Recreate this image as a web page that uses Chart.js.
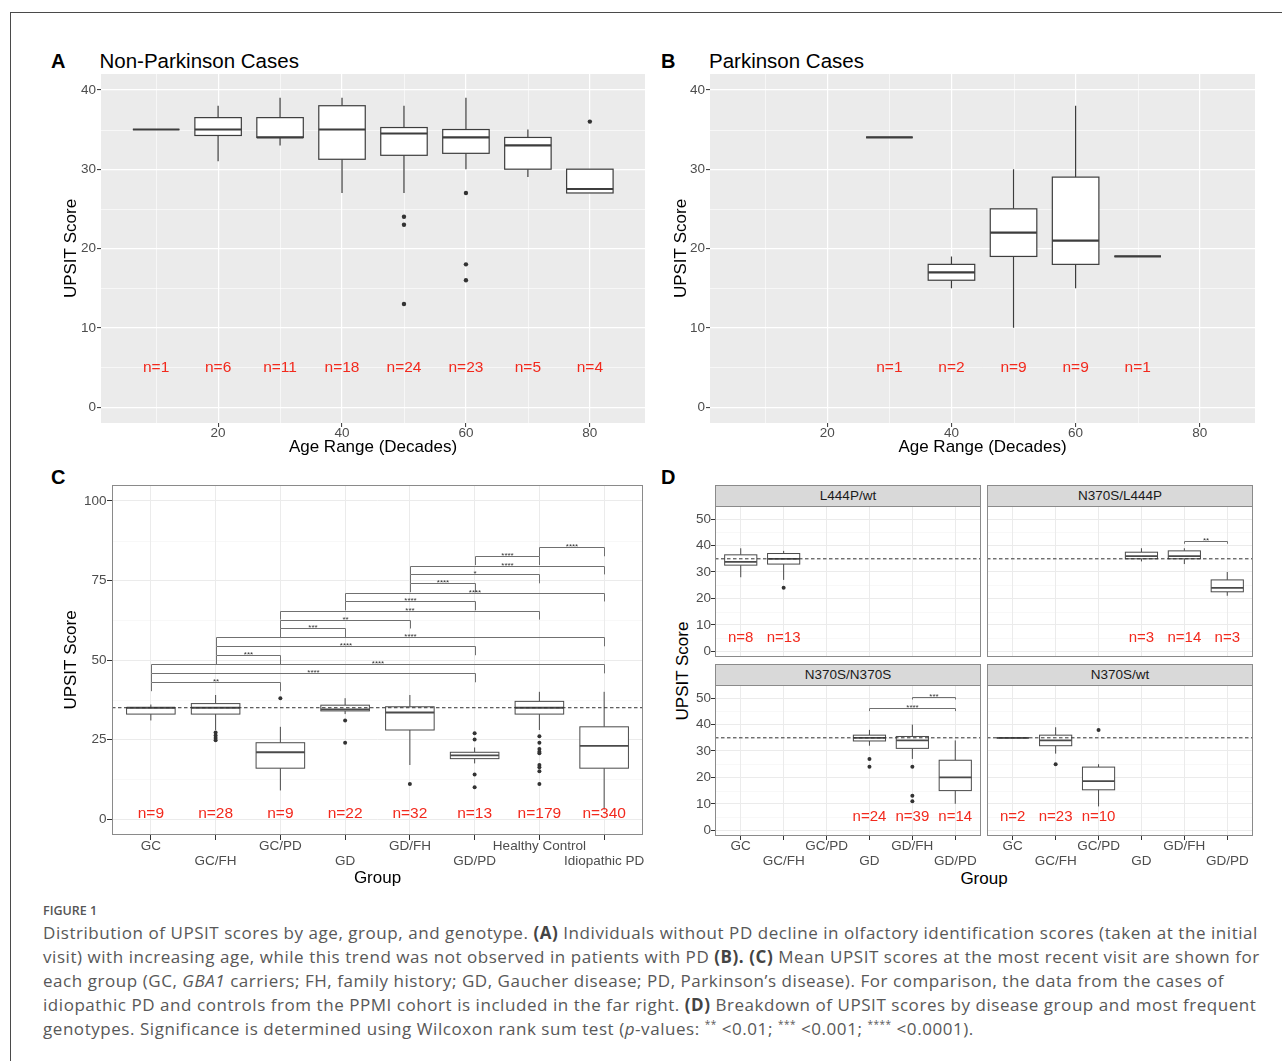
<!DOCTYPE html>
<html lang="en">
<head>
<meta charset="utf-8">
<title>Figure 1 - UPSIT scores by age, group and genotype</title>
<script src="https://cdn.jsdelivr.net/npm/chart.js@4.4.1/dist/chart.umd.min.js"></script>
<style>
    html, body { margin: 0; padding: 0; background: #fff; }
    #fig {
        position: relative;
        width: 1282px;
        height: 1061px;
        overflow: hidden;
        font-family: "Liberation Sans", Arial, Helvetica, sans-serif;
    }
    #fig canvas { position: absolute; }
    .frame-top { position: absolute; left: 10px; top: 12px; right: 0; border-top: 1px solid #4a4a4a; }
    .frame-left { position: absolute; left: 10px; top: 12px; bottom: 0; border-left: 1px solid #4a4a4a; }
    .tag { position: absolute; font-size: 20px; line-height: 1; font-weight: bold; color: #000; }
    .ptitle { position: absolute; font-size: 20.5px; line-height: 1; color: #000; white-space: nowrap; }
    .strip {
        position: absolute;
        box-sizing: border-box;
        background: #d9d9d9;
        border: 1px solid #8a8a8a;
        color: #1a1a1a;
        font-size: 13.5px;
        text-align: center;
        z-index: 2;
    }
    .axis-title {
        position: absolute;
        font-size: 17px;
        line-height: 1;
        color: #000;
        white-space: nowrap;
        transform: translate(-50%, -50%);
    }
    .axis-title.vertical { transform: translate(-50%, -50%) rotate(-90deg); }
    #caption {
        position: absolute;
        left: 43px;
        top: 901px;
        font-family: "Open Sans", Lato, sans-serif;
        color: #585858;
    }
    #caption .fig-no { font-size: 12.5px; line-height: 20px; font-weight: 600; color: #555; }
    #caption .cap-line { font-size: 17px; line-height: 24px; white-space: nowrap; letter-spacing: 0.55px; }
    #caption b { color: #444; font-weight: 700; }
    #caption sup { font-size: 10px; line-height: 0; }
</style>
</head>
<body>
<div id="fig">
    <div class="frame-top"></div>
    <div class="frame-left"></div>

    <div class="tag" style="left:51px; top:50.8px;">A</div>
    <div class="ptitle" style="left:99.5px; top:50.5px;">Non-Parkinson Cases</div>
    <div class="tag" style="left:661px; top:50.8px;">B</div>
    <div class="ptitle" style="left:709px; top:50.5px;">Parkinson Cases</div>
    <div class="tag" style="left:51px; top:467px;">C</div>
    <div class="tag" style="left:661px; top:467px;">D</div>

    <div class="axis-title vertical" style="left:682px; top:671px;">UPSIT Score</div>
    <div class="axis-title" style="left:984px; top:878px;">Group</div>

    <div id="caption">
        <div class="fig-no">FIGURE 1</div>
        <div class="cap-line">Distribution of UPSIT scores by age, group, and genotype. <b>(A)</b> Individuals without PD decline in olfactory identification scores (taken at the initial</div>
        <div class="cap-line">visit) with increasing age, while this trend was not observed in patients with PD <b>(B). (C)</b> Mean UPSIT scores at the most recent visit are shown for</div>
        <div class="cap-line">each group (GC, <i>GBA1</i> carriers; FH, family history; GD, Gaucher disease; PD, Parkinson’s disease). For comparison, the data from the cases of</div>
        <div class="cap-line">idiopathic PD and controls from the PPMI cohort is included in the far right. <b>(D)</b> Breakdown of UPSIT scores by disease group and most frequent</div>
        <div class="cap-line">genotypes. Significance is determined using Wilcoxon rank sum test (<i>p</i>-values: <sup>**</sup> &lt;0.01; <sup>***</sup> &lt;0.001; <sup>****</sup> &lt;0.0001).</div>
    </div>
</div>

<script>
/**
 * Figure 1 - UPSIT score box plots (panels A-D) drawn with Chart.js
 */

// ---- Panel A: non-Parkinson cases by age decade ----
const ageTicks = [20, 40, 60, 80];
const ageMinorTicks = [10, 30, 50, 70];
const scoreTicksAB = [0, 10, 20, 30, 40];
const scoreMinorAB = [5, 15, 25, 35];

const ageA = [10, 20, 30, 40, 50, 60, 70, 80];
const nA = [1, 6, 11, 18, 24, 23, 5, 4];
const lowA = [35, 31, 33, 27, 27, 30, 29, 27];
const q1A = [35, 34.25, 34, 31.25, 31.75, 32, 30, 27];
const medA = [35, 35, 34, 35, 34.5, 34, 33, 27.5];
const q3A = [35, 36.5, 36.5, 38, 35.25, 35, 34, 30];
const highA = [35, 38, 39, 39, 38, 39, 35, 30];
const outAgeA = [50, 50, 50, 60, 60, 60, 80];
const outScoreA = [24, 23, 13, 27, 18, 16, 36];

// ---- Panel B: Parkinson cases by age decade ----
const ageB = [30, 40, 50, 60, 70];
const nB = [1, 2, 9, 9, 1];
const lowB = [34, 15, 10, 15, 19];
const q1B = [34, 16, 19, 18, 19];
const medB = [34, 17, 22, 21, 19];
const q3B = [34, 18, 25, 29, 19];
const highB = [34, 19, 30, 38, 19];

// ---- Panel C: groups, most recent visit ----
const groupsC = ['GC', 'GC/FH', 'GC/PD', 'GD', 'GD/FH', 'GD/PD', 'Healthy Control', 'Idiopathic PD'];
const nC = [9, 28, 9, 22, 32, 13, 179, 340];
const lowC = [31, 28, 9, 33, 17, 17.5, 28, 3];
const q1C = [33, 33, 16, 34, 28, 19, 33, 16];
const medC = [35, 35, 21, 34.5, 33.5, 20, 35, 23];
const q3C = [35, 36.3, 24, 35.8, 35.3, 21, 37, 29];
const highC = [36, 39, 29, 38, 39, 22.5, 40, 40];
const outGroupC = [2, 2, 2, 2, 3, 4, 4, 5, 6, 6, 6, 6, 7, 7, 7, 7, 7, 7, 7, 7, 7];
const outScoreC = [27.2, 26.3, 25.5, 24.8, 38, 31, 24, 11, 27, 25, 14, 10, 26, 24, 22, 21.2, 20.7, 17, 16.3, 15, 11];
const scoreTicksC = [0, 25, 50, 75, 100];
const scoreMinorC = [12.5, 37.5, 62.5, 87.5];
const controlScore = 35; // dashed reference line (C and D)

// significance brackets in C (group positions are 1-based)
const sigFromC = [7, 6, 5, 5, 5, 4, 4, 3, 3, 3, 2, 2, 2, 1, 1, 1];
const sigToC = [8, 7, 8, 7, 6, 8, 6, 7, 5, 4, 8, 6, 3, 8, 6, 3];
const sigYC = [85.4, 82.6, 79.7, 76.9, 74.1, 71.2, 68.4, 65.5, 62.7, 59.9, 57.1, 54.3, 51.5, 48.6, 45.8, 43.0];
const sigLabelC = ['****', '****', '****', '*', '****', '****', '****', '***', '**', '***', '****', '****', '***', '****', '****', '**'];

// ---- Panel D: genotype facets ----
const groupsD = ['GC', 'GC/FH', 'GC/PD', 'GD', 'GD/FH', 'GD/PD'];
const genotypesD = ['L444P/wt', 'N370S/L444P', 'N370S/N370S', 'N370S/wt'];
const scoreTicksD = [0, 10, 20, 30, 40, 50];
const scoreMinorD = [5, 15, 25, 35, 45];
const groupTicksD = [1, 2, 3, 4, 5, 6];

// L444P/wt
const l444pWtAt = [1, 2];
const l444pWtN = [8, 13];
const l444pWtLow = [28, 27];
const l444pWtQ1 = [32.6, 33];
const l444pWtMed = [33.8, 35];
const l444pWtQ3 = [36.5, 37];
const l444pWtHigh = [39, 38];
const l444pWtOutAt = [2];
const l444pWtOutScore = [24];

// N370S/L444P
const n370sL444pAt = [4, 5, 6];
const n370sL444pN = [3, 14, 3];
const n370sL444pLow = [34, 33, 21];
const n370sL444pQ1 = [35, 35, 22.5];
const n370sL444pMed = [36, 36, 24];
const n370sL444pQ3 = [37.5, 38, 27];
const n370sL444pHigh = [39, 39, 30];
const n370sL444pSigFrom = [5];
const n370sL444pSigTo = [6];
const n370sL444pSigY = [41.8];
const n370sL444pSigLabel = ['**'];

// N370S/N370S
const n370sHomAt = [4, 5, 6];
const n370sHomN = [24, 39, 14];
const n370sHomLow = [32, 27, 10];
const n370sHomQ1 = [33.8, 31, 15];
const n370sHomMed = [35, 34, 20];
const n370sHomQ3 = [36, 35.5, 26.5];
const n370sHomHigh = [38, 40, 34];
const n370sHomOutAt = [4, 4, 5, 5, 5];
const n370sHomOutScore = [27, 24, 24, 13, 11];
const n370sHomSigFrom = [4, 5];
const n370sHomSigTo = [6, 6];
const n370sHomSigY = [46.2, 50.6];
const n370sHomSigLabel = ['****', '***'];

// N370S/wt
const n370sWtAt = [1, 2, 3];
const n370sWtN = [2, 23, 10];
const n370sWtLow = [35, 29, 9];
const n370sWtQ1 = [35, 32, 15.3];
const n370sWtMed = [35, 34, 18.6];
const n370sWtQ3 = [35, 36, 23.9];
const n370sWtHigh = [35, 39, 25];
const n370sWtOutAt = [2, 3];
const n370sWtOutScore = [25, 38];

(function() {
    'use strict';

    const FONT = '"Liberation Sans", Arial, Helvetica, sans-serif';
    const RED = '#f2291d';
    const fig = document.getElementById('fig');

    /**
     * Pair two value arrays into scatter points
     */
    function points(xs, ys) {
        return xs.map(function(x, i) { return { x: x, y: ys[i] }; });
    }

    /**
     * Odd/even group labels on two rows (ggplot n.dodge = 2)
     */
    function dodgedLabels(names) {
        return function(value, index) {
            const name = names[Math.round(value) - 1];
            return index % 2 === 0 ? name : ['', name];
        };
    }

    function crisp(v) {
        return Math.round(v) + 0.5;
    }

    /**
     * Panel decoration plugin: background, minor grid, boxes,
     * reference line, brackets, sample sizes and border
     */
    function panelPlugin(p) {
        return {
            id: 'panelDecor',

            beforeDraw: function(chart) {
                const ctx = chart.ctx;
                const a = chart.chartArea;
                const xs = chart.scales.x;
                const ys = chart.scales.y;
                ctx.save();
                if (p.bg) {
                    ctx.fillStyle = p.bg;
                    ctx.fillRect(a.left, a.top, a.right - a.left, a.bottom - a.top);
                }
                ctx.strokeStyle = p.minorColor;
                ctx.lineWidth = p.minorWidth;
                ctx.beginPath();
                (p.minorX || []).forEach(function(v) {
                    const px = crisp(xs.getPixelForValue(v));
                    ctx.moveTo(px, a.top);
                    ctx.lineTo(px, a.bottom);
                });
                (p.minorY || []).forEach(function(v) {
                    const py = crisp(ys.getPixelForValue(v));
                    ctx.moveTo(a.left, py);
                    ctx.lineTo(a.right, py);
                });
                ctx.stroke();
                ctx.restore();
            },

            beforeDatasetsDraw: function(chart) {
                const ctx = chart.ctx;
                const xs = chart.scales.x;
                const ys = chart.scales.y;
                const b = p.boxes;
                const st = p.boxStyle;
                ctx.save();
                for (let i = 0; i < b.at.length; i++) {
                    const cx = xs.getPixelForValue(b.at[i]);
                    const half = Math.abs(xs.getPixelForValue(b.at[i] + st.width / 2) - cx);
                    const yLow = ys.getPixelForValue(b.low[i]);
                    const yQ1 = ys.getPixelForValue(b.q1[i]);
                    const yMed = ys.getPixelForValue(b.med[i]);
                    const yQ3 = ys.getPixelForValue(b.q3[i]);
                    const yHigh = ys.getPixelForValue(b.high[i]);

                    ctx.strokeStyle = st.stroke;
                    ctx.lineWidth = st.lineWidth;
                    ctx.beginPath();
                    ctx.moveTo(cx, yHigh);
                    ctx.lineTo(cx, yQ3);
                    ctx.moveTo(cx, yQ1);
                    ctx.lineTo(cx, yLow);
                    ctx.stroke();

                    ctx.fillStyle = '#fff';
                    ctx.fillRect(cx - half, yQ3, 2 * half, yQ1 - yQ3);
                    ctx.strokeRect(cx - half, yQ3, 2 * half, yQ1 - yQ3);

                    ctx.lineWidth = st.medianWidth;
                    ctx.beginPath();
                    ctx.moveTo(cx - half, yMed);
                    ctx.lineTo(cx + half, yMed);
                    ctx.stroke();
                }
                ctx.restore();
            },

            afterDatasetsDraw: function(chart) {
                const ctx = chart.ctx;
                const a = chart.chartArea;
                const xs = chart.scales.x;
                const ys = chart.scales.y;
                ctx.save();

                // dashed control reference
                if (p.ref !== undefined) {
                    const py = ys.getPixelForValue(p.ref);
                    ctx.strokeStyle = '#333';
                    ctx.lineWidth = 1;
                    ctx.setLineDash([3.5, 2.5]);
                    ctx.beginPath();
                    ctx.moveTo(a.left, py);
                    ctx.lineTo(a.right, py);
                    ctx.stroke();
                    ctx.setLineDash([]);
                }

                // significance brackets
                if (p.sig) {
                    const s = p.sig;
                    ctx.strokeStyle = '#707070';
                    ctx.lineWidth = 1;
                    ctx.fillStyle = '#333';
                    ctx.font = '8px ' + FONT;
                    ctx.textAlign = 'center';
                    ctx.textBaseline = 'alphabetic';
                    for (let k = 0; k < s.from.length; k++) {
                        const x1 = crisp(xs.getPixelForValue(s.from[k]));
                        const x2 = crisp(xs.getPixelForValue(s.to[k]));
                        const yb = crisp(ys.getPixelForValue(s.y[k]));
                        const yt = ys.getPixelForValue(s.y[k] - p.sigTip);
                        ctx.beginPath();
                        ctx.moveTo(x1, yt);
                        ctx.lineTo(x1, yb);
                        ctx.lineTo(x2, yb);
                        ctx.lineTo(x2, yt);
                        ctx.stroke();
                        ctx.fillText(s.label[k], (x1 + x2) / 2, yb + 1);
                    }
                }

                // sample sizes
                ctx.fillStyle = RED;
                ctx.font = p.countSize + 'px ' + FONT;
                ctx.textAlign = 'center';
                ctx.textBaseline = 'middle';
                const c = p.counts;
                for (let i = 0; i < c.at.length; i++) {
                    ctx.fillText('n=' + c.n[i], xs.getPixelForValue(c.at[i]), ys.getPixelForValue(p.countY));
                }
                ctx.restore();
            },

            afterDraw: function(chart) {
                if (!p.border) return;
                const ctx = chart.ctx;
                const a = chart.chartArea;
                ctx.save();
                ctx.strokeStyle = p.border;
                ctx.lineWidth = 1;
                ctx.strokeRect(crisp(a.left), crisp(a.top),
                    Math.round(a.right - a.left) - 1, Math.round(a.bottom - a.top) - 1);
                ctx.restore();
            }
        };
    }

    /**
     * Linear axis with fixed ticks and a forced box size
     */
    function axis(o, horizontal, size) {
        return {
            type: 'linear',
            position: horizontal ? 'bottom' : 'left',
            bounds: 'data',
            min: o.min,
            max: o.max,
            afterBuildTicks: function(s) {
                s.ticks = o.ticks.map(function(v) { return { value: v }; });
            },
            afterFit: function(s) {
                if (horizontal) {
                    s.height = size;
                } else {
                    s.width = size;
                }
                s.paddingLeft = 0;
                s.paddingRight = 0;
                s.paddingTop = 0;
                s.paddingBottom = 0;
            },
            grid: {
                color: o.gridColor,
                lineWidth: o.gridWidth,
                drawTicks: !!o.showTicks,
                tickLength: o.tickLength || 4,
                tickColor: '#333',
                tickWidth: 1
            },
            border: { display: false },
            ticks: {
                display: !!o.showTicks,
                autoSkip: false,
                maxRotation: 0,
                minRotation: 0,
                padding: o.pad || 0,
                color: '#4d4d4d',
                font: { family: FONT, size: 13.5, lineHeight: 1.1 },
                callback: o.label || function(v) { return String(v); }
            },
            title: o.title ? {
                display: true,
                text: o.title,
                color: '#000',
                font: { family: FONT, size: 17 },
                padding: o.titlePad
            } : { display: false }
        };
    }

    /**
     * One panel = one canvas; frame is the canvas box, plot the panel box
     */
    function buildPanel(p) {
        const fx = p.frame[0], fy = p.frame[1], fw = p.frame[2], fh = p.frame[3];
        const m = {
            left: p.plot[0] - fx,
            top: p.plot[1] - fy,
            right: fx + fw - p.plot[2],
            bottom: fy + fh - p.plot[3]
        };
        const canvas = document.createElement('canvas');
        canvas.width = fw;
        canvas.height = fh;
        canvas.style.left = fx + 'px';
        canvas.style.top = fy + 'px';
        canvas.style.width = fw + 'px';
        canvas.style.height = fh + 'px';
        fig.appendChild(canvas);

        return new Chart(canvas, {
            type: 'scatter',
            data: {
                datasets: [{
                    data: p.outliers || [],
                    pointRadius: p.pointRadius,
                    pointHoverRadius: p.pointRadius,
                    pointBackgroundColor: '#333',
                    pointBorderWidth: 0
                }]
            },
            options: {
                responsive: false,
                animation: false,
                devicePixelRatio: 1,
                events: [],
                layout: { padding: { left: 0, top: m.top, right: m.right, bottom: 0 } },
                plugins: {
                    legend: { display: false },
                    tooltip: { enabled: false }
                },
                scales: {
                    x: axis(p.x, true, m.bottom),
                    y: axis(p.y, false, m.left)
                }
            },
            plugins: [panelPlugin(p)]
        });
    }

    function addStrip(text, left, top, width, height) {
        const div = document.createElement('div');
        div.className = 'strip';
        div.textContent = text;
        div.style.left = left + 'px';
        div.style.top = top + 'px';
        div.style.width = width + 'px';
        div.style.height = height + 'px';
        div.style.lineHeight = (height - 2) + 'px';
        fig.appendChild(div);
    }

    // shared styles
    const greyPanel = { bg: '#ebebeb', minorColor: '#ffffff', minorWidth: 0.6 };
    const whitePanel = { bg: null, minorColor: '#f4f4f4', minorWidth: 0.6, border: '#8a8a8a' };
    const boxesAB = { width: 7.5, stroke: '#3d3d3d', lineWidth: 1.2, medianWidth: 2.2 };
    const boxesCD = { width: 0.75, stroke: '#4a4a4a', lineWidth: 1, medianWidth: 1.8 };

    function ageAxis() {
        return {
            min: 1.1, max: 88.9, ticks: ageTicks, showTicks: true, pad: -1.4,
            gridColor: '#ffffff', gridWidth: 1.2,
            title: 'Age Range (Decades)', titlePad: { bottom: 4 }
        };
    }
    function scoreAxisAB() {
        return {
            min: -2, max: 42, ticks: scoreTicksAB, showTicks: true, pad: 1,
            gridColor: '#ffffff', gridWidth: 1.2,
            title: 'UPSIT Score', titlePad: { top: 10.8 }
        };
    }

    // Panel A
    buildPanel(Object.assign({}, greyPanel, {
        frame: [50, 66, 602, 396],
        plot: [101, 74, 645, 423],
        x: ageAxis(),
        y: scoreAxisAB(),
        minorX: ageMinorTicks,
        minorY: scoreMinorAB,
        boxes: { at: ageA, low: lowA, q1: q1A, med: medA, q3: q3A, high: highA },
        boxStyle: boxesAB,
        outliers: points(outAgeA, outScoreA),
        pointRadius: 2.2,
        counts: { at: ageA, n: nA },
        countY: 5,
        countSize: 15.5
    }));

    // Panel B
    buildPanel(Object.assign({}, greyPanel, {
        frame: [660, 66, 602, 396],
        plot: [710, 74, 1255, 423],
        x: ageAxis(),
        y: scoreAxisAB(),
        minorX: ageMinorTicks,
        minorY: scoreMinorAB,
        boxes: { at: ageB, low: lowB, q1: q1B, med: medB, q3: q3B, high: highB },
        boxStyle: boxesAB,
        outliers: [],
        pointRadius: 2.2,
        counts: { at: ageB, n: nB },
        countY: 5,
        countSize: 15.5
    }));

    // Panel C
    const groupAtC = groupsC.map(function(_, i) { return i + 1; });
    buildPanel(Object.assign({}, whitePanel, {
        frame: [55, 478, 600, 414],
        plot: [112, 485, 643, 835],
        x: {
            min: 0.4, max: 8.6, ticks: groupAtC, showTicks: true, pad: -0.7, tickLength: 5,
            gridColor: '#ebebeb', gridWidth: 1,
            label: dodgedLabels(groupsC),
            title: 'Group', titlePad: { bottom: 3.2 }
        },
        y: {
            min: -5, max: 105, ticks: scoreTicksC, showTicks: true, pad: 0.5, tickLength: 5,
            gridColor: '#ebebeb', gridWidth: 1,
            title: 'UPSIT Score', titlePad: { top: 6.3 }
        },
        minorY: scoreMinorC,
        boxes: { at: groupAtC, low: lowC, q1: q1C, med: medC, q3: q3C, high: highC },
        boxStyle: boxesCD,
        outliers: points(outGroupC, outScoreC),
        pointRadius: 2,
        ref: controlScore,
        sig: { from: sigFromC, to: sigToC, y: sigYC, label: sigLabelC },
        sigTip: 2.8,
        counts: { at: groupAtC, n: nC },
        countY: 1.8,
        countSize: 15.5
    }));

    // Panel D facets
    function facetAxes(showY, showX) {
        return {
            x: {
                min: 0.4, max: 6.6, ticks: groupTicksD, showTicks: showX, pad: -0.7,
                gridColor: '#ebebeb', gridWidth: 1,
                label: dodgedLabels(groupsD)
            },
            y: {
                min: -2.2, max: 55, ticks: scoreTicksD, showTicks: showY, pad: 0,
                gridColor: '#ebebeb', gridWidth: 1
            }
        };
    }

    const facets = [
        {
            frame: [688, 503, 295, 157], plot: [715, 506, 981, 657], axes: facetAxes(true, false),
            boxes: { at: l444pWtAt, low: l444pWtLow, q1: l444pWtQ1, med: l444pWtMed, q3: l444pWtQ3, high: l444pWtHigh },
            outliers: points(l444pWtOutAt, l444pWtOutScore),
            counts: { at: l444pWtAt, n: l444pWtN }
        },
        {
            frame: [985, 503, 272, 157], plot: [987, 506, 1253, 657], axes: facetAxes(false, false),
            boxes: { at: n370sL444pAt, low: n370sL444pLow, q1: n370sL444pQ1, med: n370sL444pMed, q3: n370sL444pQ3, high: n370sL444pHigh },
            outliers: [],
            sig: { from: n370sL444pSigFrom, to: n370sL444pSigTo, y: n370sL444pSigY, label: n370sL444pSigLabel },
            counts: { at: n370sL444pAt, n: n370sL444pN }
        },
        {
            frame: [688, 682, 295, 190], plot: [715, 685, 981, 836], axes: facetAxes(true, true),
            boxes: { at: n370sHomAt, low: n370sHomLow, q1: n370sHomQ1, med: n370sHomMed, q3: n370sHomQ3, high: n370sHomHigh },
            outliers: points(n370sHomOutAt, n370sHomOutScore),
            sig: { from: n370sHomSigFrom, to: n370sHomSigTo, y: n370sHomSigY, label: n370sHomSigLabel },
            counts: { at: n370sHomAt, n: n370sHomN }
        },
        {
            frame: [985, 682, 290, 190], plot: [987, 685, 1253, 836], axes: facetAxes(false, true),
            boxes: { at: n370sWtAt, low: n370sWtLow, q1: n370sWtQ1, med: n370sWtMed, q3: n370sWtQ3, high: n370sWtHigh },
            outliers: points(n370sWtOutAt, n370sWtOutScore),
            counts: { at: n370sWtAt, n: n370sWtN }
        }
    ];

    facets.forEach(function(f, i) {
        buildPanel(Object.assign({}, whitePanel, {
            frame: f.frame,
            plot: f.plot,
            x: f.axes.x,
            y: f.axes.y,
            minorY: scoreMinorD,
            boxes: f.boxes,
            boxStyle: boxesCD,
            outliers: f.outliers,
            pointRadius: 2,
            ref: controlScore,
            sig: f.sig,
            sigTip: 1.1,
            counts: f.counts,
            countY: 5,
            countSize: 15
        }));
        addStrip(genotypesD[i], f.plot[0], f.plot[1] - 21, f.plot[2] - f.plot[0], 22);
    });
})();
</script>
</body>
</html>
